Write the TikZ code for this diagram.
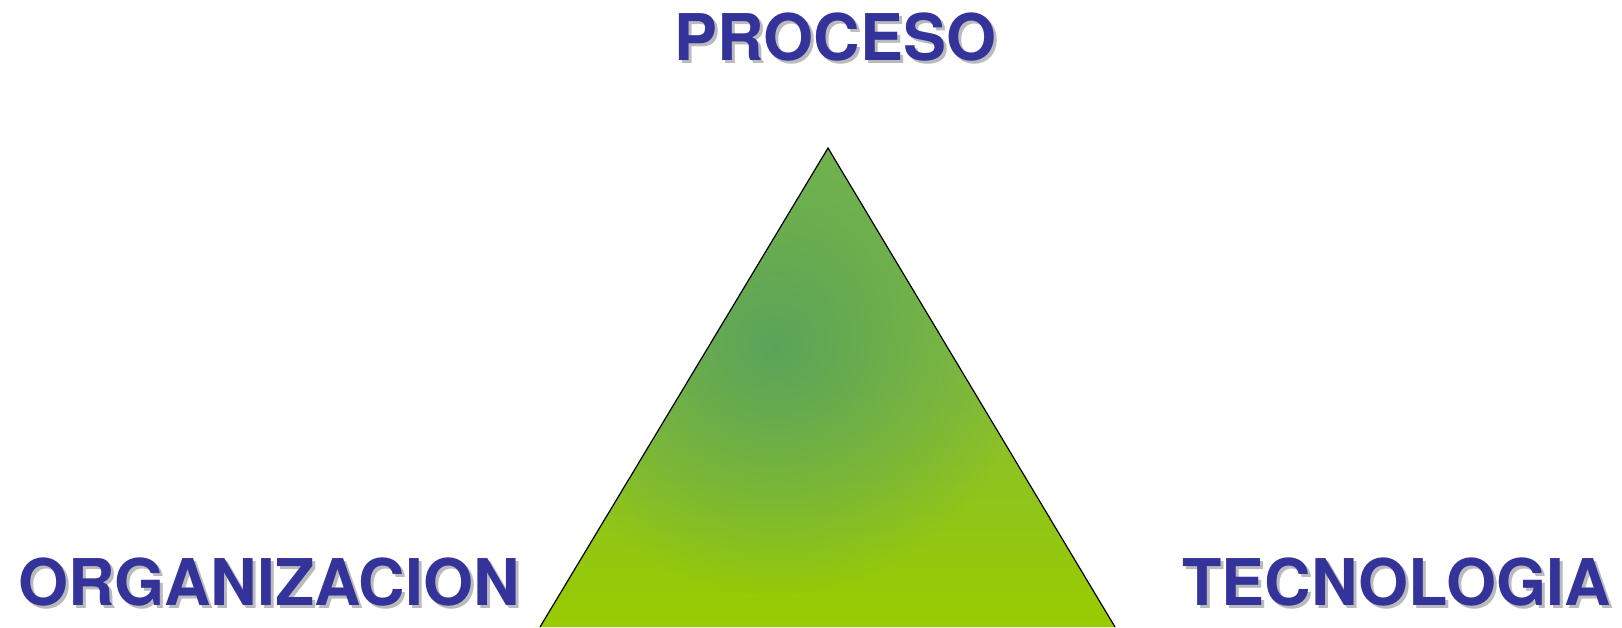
\documentclass[tikz,border=0pt]{standalone}
\usepackage{fontspec}
\newfontfamily\heros{TeX Gyre Heros}
\usetikzlibrary{positioning,calc,fadings}
\definecolor{azul}{RGB}{51,51,153}
\definecolor{sombra}{RGB}{185,185,190}
\definecolor{verdeosc}{RGB}{88,162,92}
\definecolor{verdesup}{RGB}{118,182,76}
\definecolor{verdecla}{RGB}{153,204,0}
\tikzfading[name=mancha, inner color=transparent!0, outer color=transparent!100]
\tikzset{every picture/.style={line width=0.6pt}}
\tikzset{
    etiqueta/.style={inner sep=0pt, anchor=base west, text=azul, font=\heros\bfseries\fontsize{32.2}{36}\selectfont},
    etisombra/.style={etiqueta, text=sombra}
}

\begin{document}
\begin{tikzpicture}[x=0.5pt, y=-0.5pt]
    \useasboundingbox (0,0) rectangle (1622,627);

    % vertices del triangulo
    \coordinate (cima) at (828,148);
    \coordinate (izq) at (540,627);
    \coordinate (der) at (1115,627);

    % relleno con degradado
    \shade[top color=verdesup, bottom color=verdecla, middle color={rgb,255:red,136;green,190;blue,52}]
        (cima) -- (izq) -- (der) -- cycle;
    \begin{scope}
        \clip (cima) -- (izq) -- (der) -- cycle;
        \fill[verdeosc, path fading=mancha, fill opacity=0.95]
            (775,345) circle (250);
    \end{scope}
    \draw (izq) -- (cima) -- (der);

    % sombras de los textos
    \node[etisombra] (procesoS) at (677,63) {PROCESO};
    \node[etisombra] (organizacionS) at (21,608) {ORGANIZACION};
    \node[etisombra] (tecnologiaS) at (1185,608) {TECNOLOGIA};

    % textos
    \node[etiqueta] (proceso) at (674,60) {PROCESO};
    \node[etiqueta] (organizacion) at (18,605) {ORGANIZACION};
    \node[etiqueta] (tecnologia) at (1182,605) {TECNOLOGIA};
\end{tikzpicture}
\end{document}
